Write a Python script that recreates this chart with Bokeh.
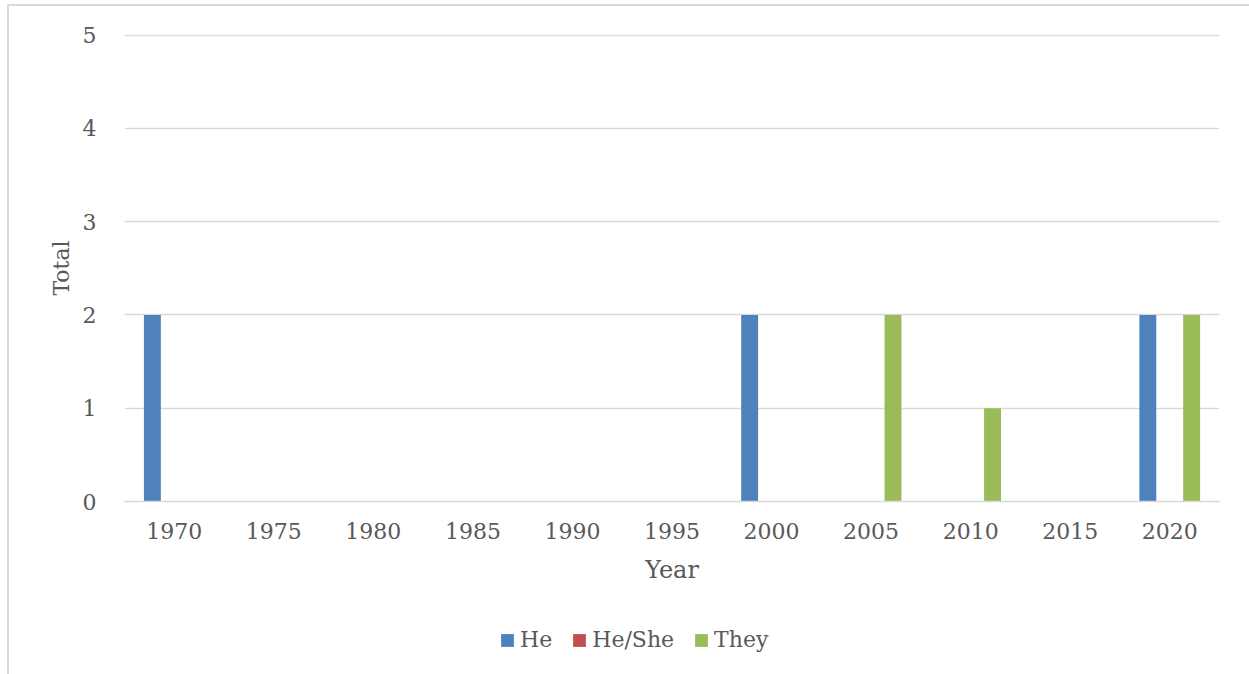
from bokeh.plotting import figure
from bokeh.layouts import column
from bokeh.models import FactorRange, Range1d, Legend, LegendItem, ColumnDataSource, FixedTicker
from bokeh.transform import dodge
from bokeh.embed import file_html
from bokeh.resources import INLINE

years = ["1970", "1975", "1980", "1985", "1990", "1995", "2000", "2005", "2010", "2015", "2020"]
he = [2, 0, 0, 0, 0, 0, 2, 0, 0, 0, 2]
he_she = [0, 0, 0, 0, 0, 0, 0, 0, 0, 0, 0]
they = [0, 0, 0, 0, 0, 0, 0, 2, 1, 0, 2]
series_names = ["He", "He/She", "They"]
series_cols = ["he", "he_she", "they"]
colors = ["#4F81BD", "#C0504D", "#9BBB59"]
offsets = [-0.22, 0.0, 0.22]

src = ColumnDataSource(dict(year=years, he=he, he_she=he_she, they=they))

FONT = "DejaVu Serif"
TXT = "#595959"
GRID = "#d9d9d9"

p = figure(x_range=FactorRange(*years, range_padding=0), y_range=Range1d(0, 5.006),
           width=1240, height=590,
           min_border_left=115, min_border_top=28, min_border_right=30, min_border_bottom=95,
           output_backend="svg", toolbar_location=None, outline_line_color=None)

for col, c, off in zip(series_cols, colors, offsets):
    p.vbar(x=dodge("year", off, range=p.x_range), top=col, width=0.17, source=src,
           fill_color=c, line_color=None)

p.xgrid.grid_line_color = None
p.ygrid.grid_line_color = GRID
p.ygrid.grid_line_width = 1.5
p.yaxis.ticker = FixedTicker(ticks=[0, 1, 2, 3, 4, 5])

for ax in (p.xaxis[0], p.yaxis[0]):
    ax.major_tick_line_color = None
    ax.minor_tick_line_color = None
    ax.major_label_text_font = FONT
    ax.major_label_text_font_size = "22px"
    ax.major_label_text_color = TXT
    ax.axis_label_text_font = FONT
    ax.axis_label_text_font_style = "normal"
    ax.axis_label_text_color = TXT

p.yaxis.axis_line_color = None
p.xaxis.axis_line_color = GRID
p.xaxis.axis_line_width = 1.5
p.yaxis.axis_label = "Total"
p.xaxis.axis_label = "Year"
p.yaxis.axis_label_text_font_size = "22px"
p.xaxis.axis_label_text_font_size = "24px"
p.yaxis.major_label_standoff = 22
p.yaxis.axis_label_standoff = 6
p.xaxis.major_label_standoff = 15
p.xaxis.axis_label_standoff = 14

# legend strip below the chart
p2 = figure(x_range=FactorRange(*years, range_padding=0), y_range=Range1d(10, 11),
            width=1240, height=78, min_border=0, x_axis_type=None, y_axis_type=None,
            output_backend="svg", toolbar_location=None, outline_line_color=None)
p2.xgrid.grid_line_color = None
p2.ygrid.grid_line_color = None
items = []
for name, col, c, off in zip(series_names, series_cols, colors, offsets):
    r = p2.vbar(x=dodge("year", off, range=p2.x_range), top=col, width=0.17, source=src,
                fill_color=c, line_color=None)
    items.append(LegendItem(label=name, renderers=[r]))

legend = Legend(items=items, orientation="horizontal", location=(375, 22),
                border_line_color=None, background_fill_alpha=0, padding=0, margin=0,
                glyph_width=16, glyph_height=16, label_standoff=5, spacing=19,
                label_text_font=FONT, label_text_font_size="22px", label_text_color=TXT)
p2.add_layout(legend, "center")

layout = column(p, p2, spacing=0)
layout.margin = (4, 0, 0, 7)
layout.styles = {"border-left": "2px solid #d9d9d9", "border-top": "2px solid #d9d9d9"}

open("out.html", "w").write(file_html(layout, INLINE))
